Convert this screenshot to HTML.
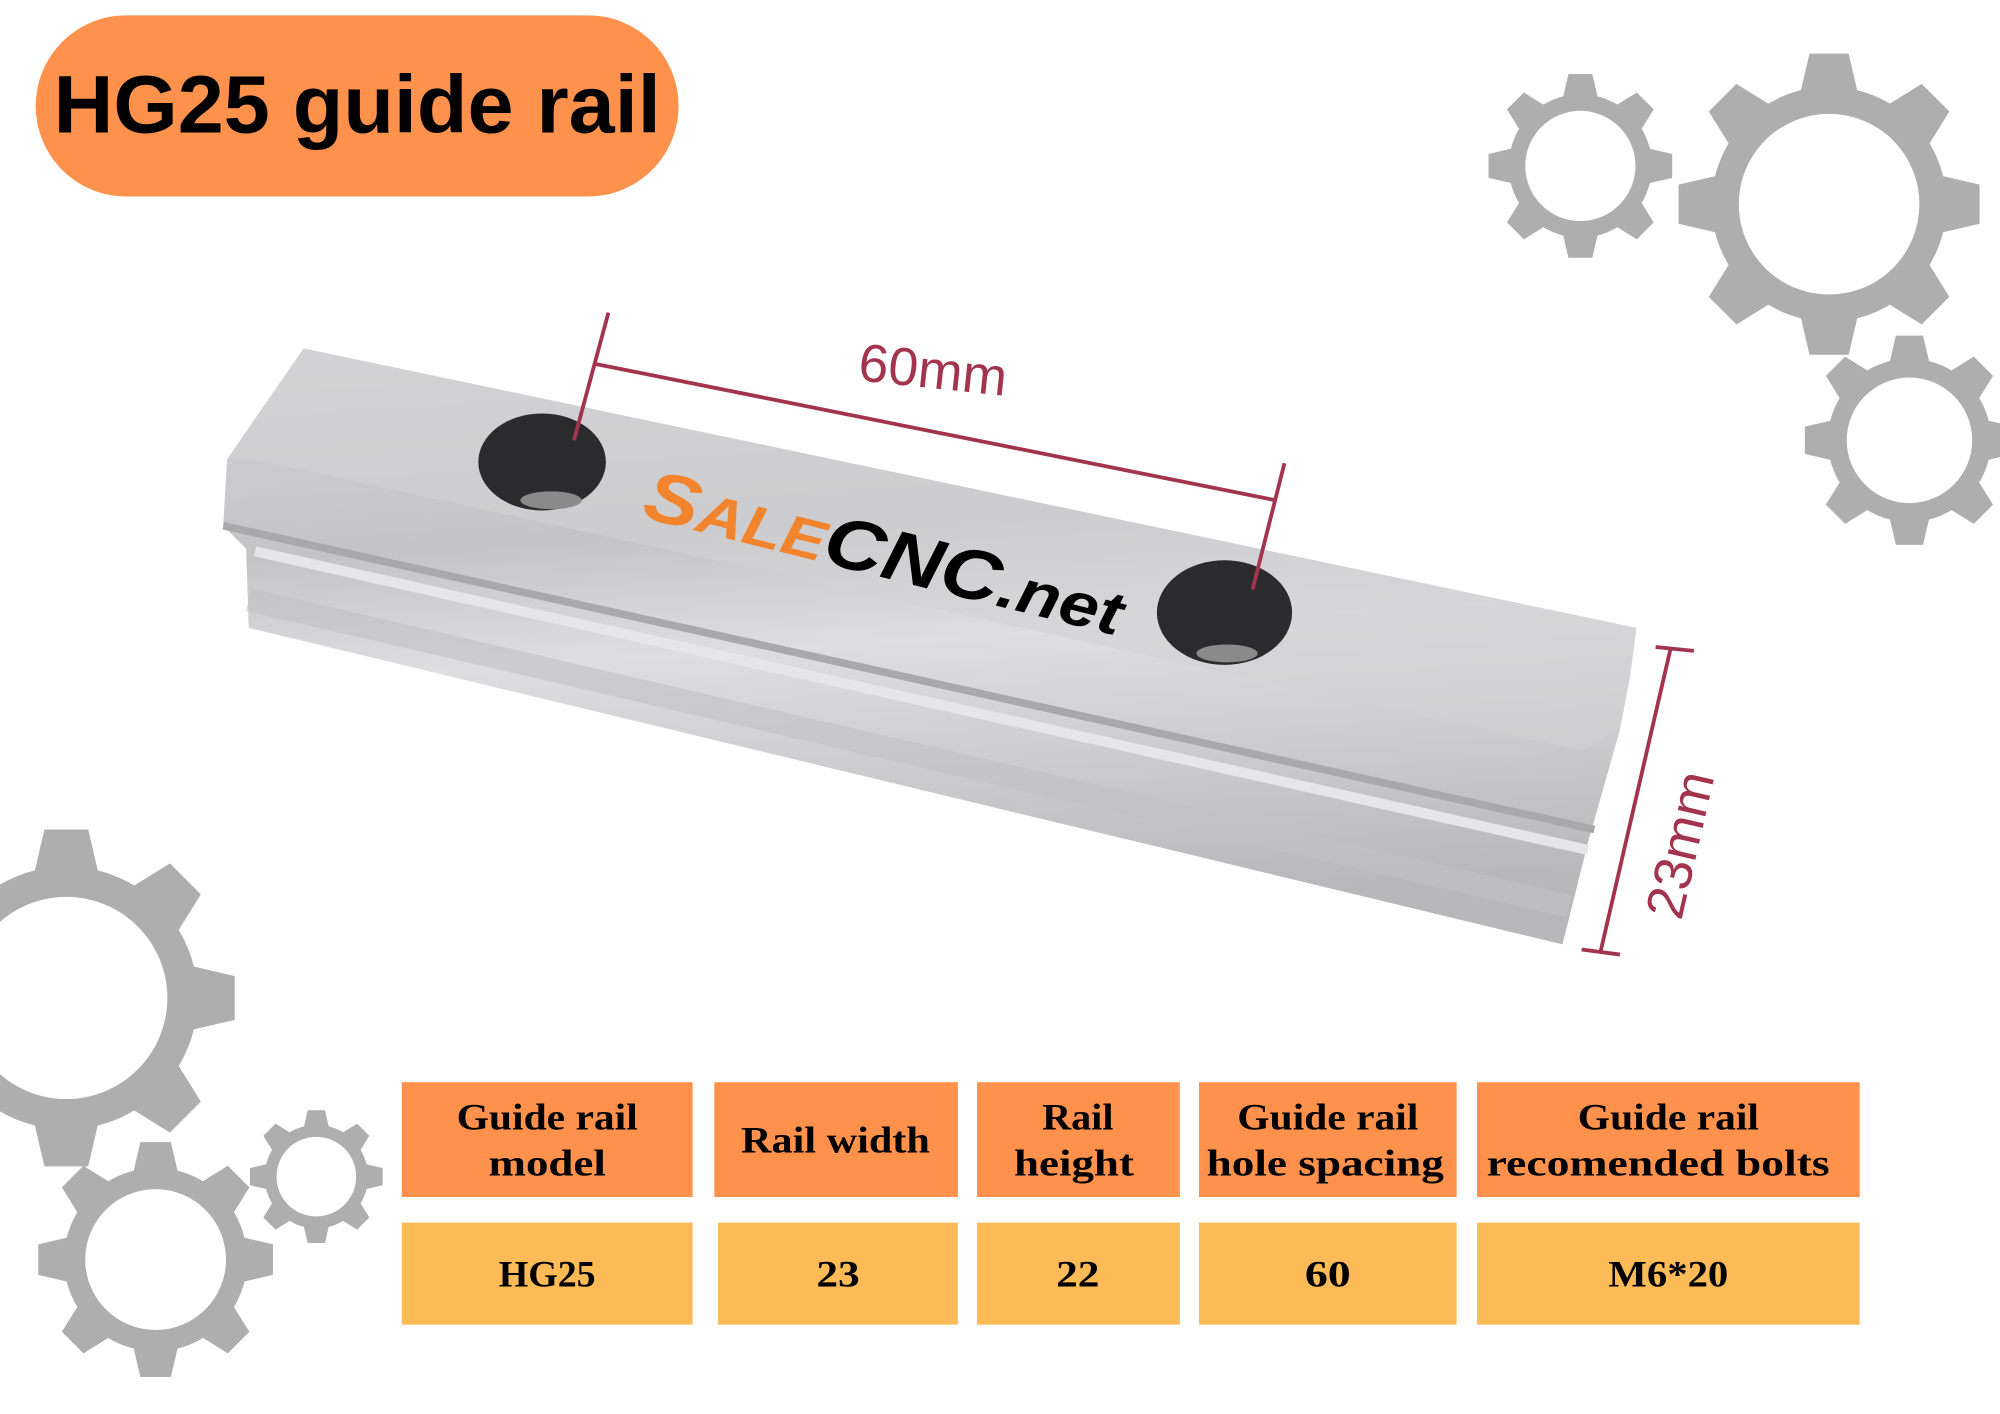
<!DOCTYPE html>
<html><head><meta charset="utf-8"><style>
html,body{margin:0;padding:0;background:#fff;}
svg{display:block}
</style></head><body>
<svg width="2000" height="1414" viewBox="0 0 1568 1108" preserveAspectRatio="none" xmlns="http://www.w3.org/2000/svg">
<defs>
<linearGradient id="rg" x1="0" y1="0" x2="0.15" y2="1">
<stop offset="0" stop-color="#d4d4d6"/><stop offset="0.35" stop-color="#c4c4c6"/><stop offset="0.55" stop-color="#dedee0"/><stop offset="1" stop-color="#b8b8ba"/>
</linearGradient>
<g id="gear">
<circle r="0.78" fill="#aeaeaf"/>
<g fill="#aeaeaf">
<polygon points="-0.2,-0.7 -0.13,-1 0.13,-1 0.2,-0.7" id="t"/>
<use href="#t" transform="rotate(45)"/><use href="#t" transform="rotate(90)"/><use href="#t" transform="rotate(135)"/>
<use href="#t" transform="rotate(180)"/><use href="#t" transform="rotate(225)"/><use href="#t" transform="rotate(270)"/><use href="#t" transform="rotate(315)"/>
</g>
<circle r="0.6" fill="#fff"/>
</g>
</defs>
<rect width="1568" height="1108" fill="#fff"/>
<use href="#gear" transform="translate(1239,130) scale(72)"/>
<use href="#gear" transform="translate(1434,160) scale(118)"/>
<use href="#gear" transform="translate(1497,345) scale(82)"/>
<use href="#gear" transform="translate(52,782) scale(132)"/>
<use href="#gear" transform="translate(122,987) scale(92)"/>
<use href="#gear" transform="translate(248,922) scale(52)"/>
<rect x="28" y="12" width="504" height="142" rx="71" fill="#fe914c"/>
<text x="280" y="104" text-anchor="middle" font-family="Liberation Sans, sans-serif" font-weight="bold" font-size="64" fill="#000" textLength="476" lengthAdjust="spacingAndGlyphs">HG25 guide rail</text>
<polygon points="238,273 1283,492 1278,530 1270,572 1245,660 1225,740 195,492 193,430 175,412 178,360" fill="url(#rg)"/>
<polygon points="178,360 238,273 1283,492 1270,572 1240,588 200,360" fill="#d2d2d4" opacity="0.6"/>
<path d="M175,412 L1250,650" stroke="#a9a9ab" stroke-width="6"/>
<path d="M200,432 L1245,666" stroke="#e6e6e8" stroke-width="8"/>
<path d="M195,470 L1230,710" stroke="#c2c2c4" stroke-width="18" opacity="0.6"/>
<ellipse cx="425" cy="362" rx="50" ry="38" fill="#2b2b2d"/>
<ellipse cx="432" cy="392" rx="24" ry="7" fill="#8a8a8a"/>
<ellipse cx="960" cy="480" rx="53" ry="41" fill="#2b2b2d"/>
<ellipse cx="962" cy="512" rx="24" ry="7" fill="#8a8a8a"/>
<g transform="translate(502,405) rotate(14)" font-family="Liberation Sans, sans-serif" font-weight="bold" font-style="italic">
<text x="0" y="0" font-size="56" fill="#f2842d" textLength="385" lengthAdjust="spacingAndGlyphs">S<tspan font-size="44">ALE</tspan><tspan fill="#000" font-size="56">CNC<tspan font-size="48">.net</tspan></tspan></text>
</g>
<g stroke="#a3344e" stroke-width="3" fill="none">
<line x1="477" y1="245" x2="450" y2="345"/>
<line x1="466" y1="285" x2="1000" y2="392"/>
<line x1="1007" y1="363" x2="982" y2="462"/>
<line x1="1310" y1="507" x2="1255" y2="745"/>
<line x1="1298" y1="507" x2="1328" y2="510"/>
<line x1="1240" y1="744" x2="1270" y2="748"/>
</g>
<text transform="translate(672,298) rotate(6)" font-family="Liberation Sans, sans-serif" font-size="42" fill="#a3344e">60mm</text>
<text transform="translate(1318,722) rotate(-77)" font-family="Liberation Sans, sans-serif" font-size="42" fill="#a3344e">23mm</text>
<g fill="#fe914c">
<rect x="315" y="848" width="228" height="90"/><rect x="560" y="848" width="191" height="90"/>
<rect x="766" y="848" width="159" height="90"/><rect x="940" y="848" width="202" height="90"/>
<rect x="1158" y="848" width="300" height="90"/>
</g>
<g fill="#fdbb57">
<rect x="315" y="958" width="228" height="80"/><rect x="563" y="958" width="188" height="80"/>
<rect x="766" y="958" width="159" height="80"/><rect x="940" y="958" width="202" height="80"/>
<rect x="1158" y="958" width="300" height="80"/>
</g>
<g font-family="Liberation Serif, serif" font-weight="bold" font-size="29" fill="#000" text-anchor="middle">
<text x="429" y="885" textLength="142" lengthAdjust="spacingAndGlyphs">Guide rail</text><text x="429" y="921" textLength="92" lengthAdjust="spacingAndGlyphs">model</text>
<text x="655" y="903" textLength="148" lengthAdjust="spacingAndGlyphs">Rail width</text>
<text x="845" y="885" textLength="56" lengthAdjust="spacingAndGlyphs">Rail</text><text x="842" y="921" textLength="94" lengthAdjust="spacingAndGlyphs">height</text>
<text x="1041" y="885" textLength="142" lengthAdjust="spacingAndGlyphs">Guide rail</text><text x="1039" y="921" textLength="186" lengthAdjust="spacingAndGlyphs">hole spacing</text>
<text x="1308" y="885" textLength="142" lengthAdjust="spacingAndGlyphs">Guide rail</text><text x="1300" y="921" textLength="269" lengthAdjust="spacingAndGlyphs">recomended bolts</text>
<text x="429" y="1008" textLength="76" lengthAdjust="spacingAndGlyphs">HG25</text><text x="657" y="1008" textLength="34" lengthAdjust="spacingAndGlyphs">23</text><text x="845" y="1008" textLength="34" lengthAdjust="spacingAndGlyphs">22</text>
<text x="1041" y="1008" textLength="36" lengthAdjust="spacingAndGlyphs">60</text><text x="1308" y="1008" textLength="94" lengthAdjust="spacingAndGlyphs">M6*20</text>
</g>
</svg>
</body></html>
